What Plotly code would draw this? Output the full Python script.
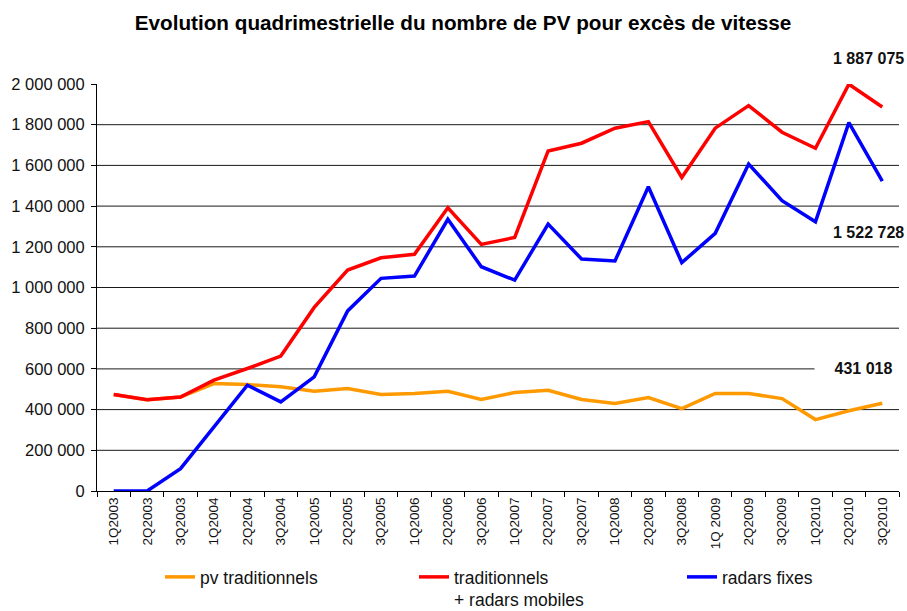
import plotly.graph_objects as go

categories = ["1Q2003", "2Q2003", "3Q2003", "1Q2004", "2Q2004", "3Q2004",
              "1Q2005", "2Q2005", "3Q2005", "1Q2006", "2Q2006", "3Q2006",
              "1Q2007", "2Q2007", "3Q2007", "1Q2008", "2Q2008", "3Q2008",
              "1Q 2009", "2Q2009", "3Q2009", "1Q2010", "2Q2010", "3Q2010"]

pv_traditionnels = [474000, 449000, 462000, 528000, 523000, 512000,
                    490000, 504000, 474000, 479000, 490000, 450000,
                    484000, 495000, 450000, 430000, 459000, 405000,
                    479000, 479000, 454000, 351000, 394000, 431018]

trad_radars_mobiles = [474000, 449000, 462000, 545000, 602000, 663000,
                       902000, 1086000, 1146000, 1163000, 1392000, 1212000,
                       1246000, 1671000, 1709000, 1783000, 1815000, 1541000,
                       1783000, 1894000, 1763000, 1684000, 1999000, 1887075]

radars_fixes = [0, 0, 110000, 315000, 520000, 438000,
                561000, 885000, 1045000, 1056000, 1335000, 1102000,
                1036000, 1312000, 1140000, 1130000, 1495000, 1122000,
                1266000, 1607000, 1427000, 1323000, 1810000, 1522728]

y_ticks = [0, 200000, 400000, 600000, 800000, 1000000, 1200000,
           1400000, 1600000, 1800000, 2000000]
grid_values = [200000, 400000, 600000, 800000, 1000000, 1200000,
               1400000, 1600000, 1800000]

title_text = "Evolution quadrimestrielle du nombre de PV pour excès de vitesse"
legend_names = ["pv traditionnels", "traditionnels<br>+ radars mobiles", "radars fixes"]


def fmt(v):
    return f"{int(v):,}".replace(",", " ")


FONT = "Liberation Sans, Arial, sans-serif"
W, H = 907, 611
L, R, T, B = 97, 8, 84, 120
PW = W - L - R
PH = H - T - B


def px_x(px):
    return (px - L) / PW


def px_y(py):
    return (H - B - py) / PH


fig = go.Figure()
fig.add_trace(go.Scatter(x=categories, y=pv_traditionnels, mode="lines",
                         name=legend_names[0], line=dict(color="#FF9900", width=3.5),
                         legend="legend"))
fig.add_trace(go.Scatter(x=categories, y=trad_radars_mobiles, mode="lines",
                         name=legend_names[1], line=dict(color="#FF0000", width=3.5),
                         legend="legend2"))
fig.add_trace(go.Scatter(x=categories, y=radars_fixes, mode="lines",
                         name=legend_names[2], line=dict(color="#0000FF", width=3.5),
                         legend="legend3"))

shapes = [dict(type="line", xref="paper", x0=0, x1=1, yref="y", y0=g, y1=g,
               line=dict(color="#1a1a1a", width=1), layer="below")
          for g in grid_values]

legend_common = dict(orientation="v", xanchor="left", yanchor="top",
                     font=dict(family=FONT, size=17.5, color="#111"),
                     bgcolor="rgba(0,0,0,0)", valign="top", borderwidth=0)

fig.update_layout(
    width=W, height=H,
    margin=dict(l=L, r=R, t=T, b=B, autoexpand=False),
    paper_bgcolor="white", plot_bgcolor="white",
    title=dict(text="<b>" + title_text + "</b>", x=463 / W, xanchor="center",
               xref="container", y=1 - 23 / H, yanchor="middle", yref="container",
               font=dict(family=FONT, size=20.7, color="#000")),
    xaxis=dict(type="category", tickangle=-90, ticks="outside", ticklen=5,
               tickson="boundaries", tickcolor="#000", showline=True,
               linecolor="#000", linewidth=1, showgrid=False, automargin=False,
               tickfont=dict(family=FONT, size=13.5, color="#111"),
               range=[-0.5, len(categories) - 0.5]),
    yaxis=dict(range=[0, 2000000], tickmode="array", tickvals=y_ticks,
               ticktext=[fmt(v) for v in y_ticks], ticks="outside", ticklen=5,
               tickcolor="#000", showline=True, linecolor="#000", linewidth=1,
               showgrid=False, zeroline=False, ticklabelstandoff=3, automargin=False,
               tickfont=dict(family=FONT, size=16.5, color="#111")),
    shapes=shapes,
    showlegend=True,
    legend=dict(x=px_x(160), y=px_y(559), **legend_common),
    legend2=dict(x=px_x(414), y=px_y(559), **legend_common),
    legend3=dict(x=px_x(682), y=px_y(559), **legend_common),
)

ann_font = dict(family=FONT, size=16, color="#111")
fig.add_annotation(text="<b>" + fmt(trad_radars_mobiles[-1]) + "</b>", xref="paper",
                   x=px_x(906), xanchor="right", yref="paper", y=px_y(58),
                   yanchor="middle", showarrow=False, font=ann_font)
fig.add_annotation(text="<b>" + fmt(radars_fixes[-1]) + "</b>", xref="paper",
                   x=px_x(906), xanchor="right", yref="paper", y=px_y(232),
                   yanchor="middle", showarrow=False, font=ann_font)
fig.add_annotation(text="<b>" + fmt(pv_traditionnels[-1]) + "</b>", xref="paper",
                   x=px_x(863.5), xanchor="center", yref="y", y=600000,
                   yanchor="middle", showarrow=False, font=ann_font,
                   bgcolor="white", width=97, borderpad=0)

fig.write_html("out.html", config={"displayModeBar": False},
               post_script="document.body.style.margin='0';document.body.style.overflow='hidden';")
